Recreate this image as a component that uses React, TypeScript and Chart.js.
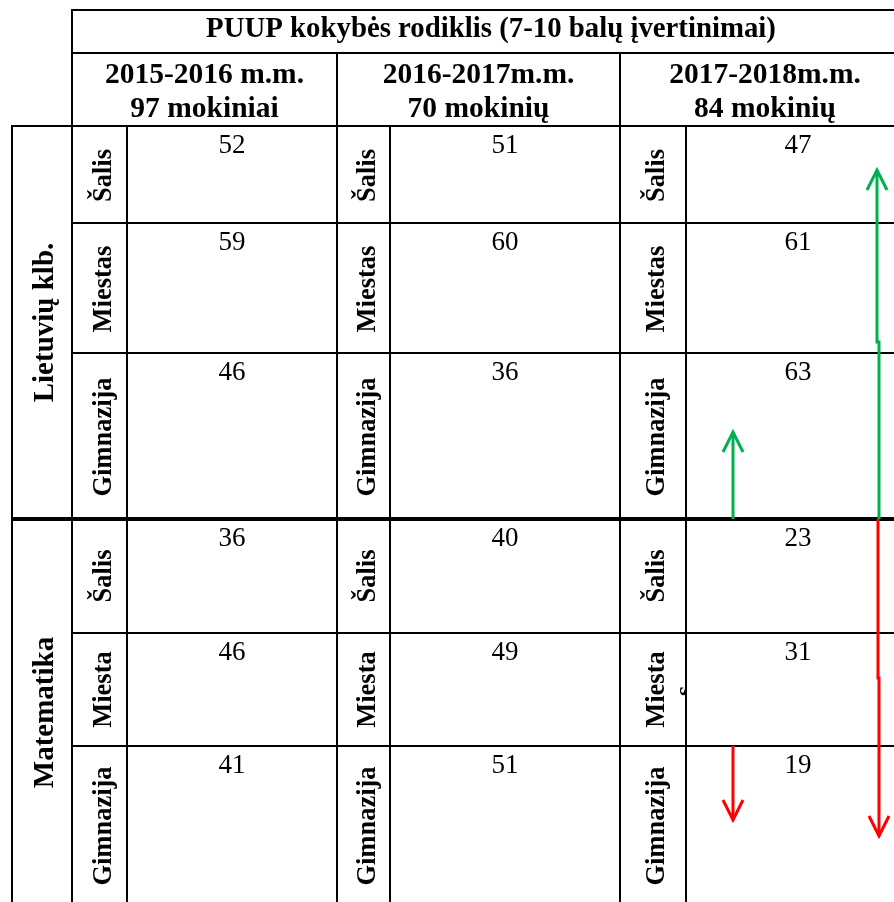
import React, { useEffect, useRef } from "react";
import { Chart, registerables } from "chart.js";

Chart.register(...registerables);

// ---- data ----
const title = "PUUP kokybės rodiklis (7-10 balų įvertinimai)";
const years = ["2015-2016 m.m.", "2016-2017m.m.", "2017-2018m.m."];
const pupils = ["97 mokiniai", "70 mokinių", "84 mokinių"];
const subjects = ["Lietuvių klb.", "Matematika"];
const ltLevels = ["Šalis", "Miestas", "Gimnazija"];
const mathLevels = ["Šalis", "Miesta", "Gimnazija"];
// values per school year: [Šalis, Miestas, Gimnazija]
const ltValues = [
  [52, 59, 46],
  [51, 60, 36],
  [47, 61, 63],
];
const mathValues = [
  [36, 46, 41],
  [40, 49, 51],
  [23, 31, 19],
];

// ---- layout (px in the 894x902 page) ----
const W = 894;
const H = 902;
const groupLeft = 12;
const tableLeft = 72;
const tableRight = 910;
const yearLeft = [72, 337, 620];
const labelRight = [127, 390, 686];
const titleTop = 10;
const titleBottom = 53;
const headBottom = 126;
const rowEdges = [126, 223, 353, 519, 633, 746, 906];
const GREEN = "#00B050";
const RED = "#FF0000";
const SERIF = '"Liberation Serif", "Times New Roman", serif';

function yearRight(j: number) {
  return j < 2 ? yearLeft[j + 1] : tableRight;
}

export default function App() {
  const ref = useRef<HTMLCanvasElement | null>(null);

  useEffect(() => {
    const canvas = ref.current;
    if (!canvas) return;

    // value points: one per cell, placed via scales
    const points: { x: number; y: number; v: number }[] = [];
    const allValues = [ltValues, mathValues];
    for (let s = 0; s < 2; s++) {
      for (let j = 0; j < 3; j++) {
        for (let l = 0; l < 3; l++) {
          const cx = (labelRight[j] + yearRight(j)) / 2;
          const top = rowEdges[s * 3 + l];
          points.push({ x: cx, y: top + 27, v: allValues[s][j][l] });
        }
      }
    }

    const tablePlugin = {
      id: "tablePlugin",
      beforeDraw(chart: any) {
        const c = chart.ctx;
        c.save();
        c.fillStyle = "#ffffff";
        c.fillRect(0, 0, chart.width, chart.height);
        c.restore();
      },
      afterDraw(chart: any) {
        const c: CanvasRenderingContext2D = chart.ctx;
        const xs = chart.scales.x;
        const ys = chart.scales.y;
        const X = (v: number) => xs.getPixelForValue(v);
        const Y = (v: number) => ys.getPixelForValue(v);

        c.save();
        c.strokeStyle = "#000";
        c.lineCap = "butt";
        const line = (x1: number, y1: number, x2: number, y2: number, w = 2) => {
          c.lineWidth = w;
          c.beginPath();
          c.moveTo(X(x1), Y(y1));
          c.lineTo(X(x2), Y(y2));
          c.stroke();
        };
        // horizontal lines
        line(tableLeft - 1, titleTop, tableRight, titleTop);
        line(tableLeft, titleBottom, tableRight, titleBottom);
        line(groupLeft - 1, headBottom, tableRight, headBottom);
        [223, 353, 633, 746].forEach((yy) => line(tableLeft, yy, tableRight, yy));
        line(groupLeft - 1, rowEdges[3], tableRight, rowEdges[3], 4);
        // vertical lines
        line(groupLeft, headBottom, groupLeft, H);
        line(tableLeft, titleTop, tableLeft, H);
        for (let j = 1; j < 3; j++) line(yearLeft[j], titleBottom, yearLeft[j], H);
        for (let j = 0; j < 3; j++) line(labelRight[j], headBottom, labelRight[j], H);

        // title
        c.fillStyle = "#000";
        c.textAlign = "center";
        c.textBaseline = "alphabetic";
        c.font = `bold 28.8px ${SERIF}`;
        c.fillText(title, X((tableLeft + tableRight) / 2), Y(37));
        // year headers
        c.font = `bold 29.5px ${SERIF}`;
        for (let j = 0; j < 3; j++) {
          const cx = X((yearLeft[j] + yearRight(j)) / 2);
          c.fillText(years[j], cx, Y(83));
          c.fillText(pupils[j], cx, Y(117));
        }

        // rotated text helper
        const rot = (text: string, bx: number, cy: number, font: string) => {
          c.save();
          c.translate(X(bx), Y(cy));
          c.rotate(-Math.PI / 2);
          c.font = font;
          c.textAlign = "center";
          c.textBaseline = "alphabetic";
          c.fillText(text, 0, 0);
          c.restore();
        };
        // subject labels
        rot(subjects[0], 53, (rowEdges[0] + rowEdges[3]) / 2, `bold 29px ${SERIF}`);
        rot(subjects[1], 53, (rowEdges[3] + rowEdges[6]) / 2, `bold 29px ${SERIF}`);
        // level labels
        for (let j = 0; j < 3; j++) {
          const bx = (yearLeft[j] + labelRight[j]) / 2 + 11;
          for (let l = 0; l < 3; l++) {
            rot(ltLevels[l], bx, (rowEdges[l] + rowEdges[l + 1]) / 2 + 1, `bold 26.5px ${SERIF}`);
            rot(mathLevels[l], bx, (rowEdges[3 + l] + rowEdges[4 + l]) / 2, `bold 26.5px ${SERIF}`);
          }
        }
        // stray wrapped "s" of "Miestas" in the last column
        c.save();
        c.beginPath();
        c.rect(X(600), Y(670), X(685) - X(600), 40);
        c.clip();
        rot("s", 692, 691, `bold 26px ${SERIF}`);
        c.restore();

        // values
        const meta = chart.getDatasetMeta(0);
        c.font = `27px ${SERIF}`;
        c.textAlign = "center";
        c.textBaseline = "alphabetic";
        meta.data.forEach((el: any, i: number) => {
          c.fillText(String(points[i].v), el.x, el.y);
        });

        // trend arrows (2017-2018 vs 2016-2017)
        const arrow = (
          pts: [number, number][],
          color: string,
          up: boolean
        ) => {
          c.strokeStyle = color;
          c.lineWidth = 3;
          c.lineCap = "butt";
          c.beginPath();
          pts.forEach(([px, py], k) => {
            if (k === 0) c.moveTo(X(px), Y(py));
            else c.lineTo(X(px), Y(py));
          });
          c.stroke();
          const [tx, ty] = pts[pts.length - 1];
          const d = up ? 20 : -20;
          c.lineJoin = "miter";
          c.beginPath();
          c.moveTo(X(tx - 10), Y(ty + d));
          c.lineTo(X(tx), Y(ty));
          c.lineTo(X(tx + 10), Y(ty + d));
          c.stroke();
        };
        const gymUpLt = ltValues[2][2] > ltValues[1][2];
        const gymUpMath = mathValues[2][2] > mathValues[1][2];
        // small arrows in the Gimnazija cells
        arrow(
          [
            [733, rowEdges[3]],
            [733, rowEdges[2] + 79],
          ],
          gymUpLt ? GREEN : RED,
          gymUpLt
        );
        arrow(
          [
            [733, rowEdges[5]],
            [733, rowEdges[5] + 74],
          ],
          gymUpMath ? GREEN : RED,
          gymUpMath
        );
        // large arrows across each subject block
        arrow(
          [
            [879, rowEdges[3]],
            [879, 342],
            [877, 342],
            [877, rowEdges[0] + 44],
          ],
          GREEN,
          true
        );
        arrow(
          [
            [878, rowEdges[3]],
            [878, 678],
            [879, 678],
            [879, rowEdges[5] + 90],
          ],
          RED,
          false
        );
        c.restore();
      },
    };

    const chart = new Chart(canvas, {
      type: "scatter",
      data: {
        datasets: [
          {
            data: points.map((p) => ({ x: p.x, y: p.y })),
            pointRadius: 0,
            showLine: false,
          },
        ],
      },
      options: {
        responsive: false,
        animation: false,
        devicePixelRatio: 1,
        layout: { padding: 0 },
        events: [],
        plugins: { legend: { display: false }, tooltip: { enabled: false } },
        scales: {
          x: { type: "linear", min: 0, max: W, display: false },
          y: { type: "linear", min: 0, max: H, reverse: true, display: false },
        },
      },
      plugins: [tablePlugin],
    });
    return () => chart.destroy();
  }, []);

  return (
    <div style={{ position: "fixed", left: 0, top: 0, width: W, height: H, background: "#fff" }}>
      <canvas ref={ref} width={W} height={H} style={{ display: "block", width: W, height: H }} />
    </div>
  );
}
